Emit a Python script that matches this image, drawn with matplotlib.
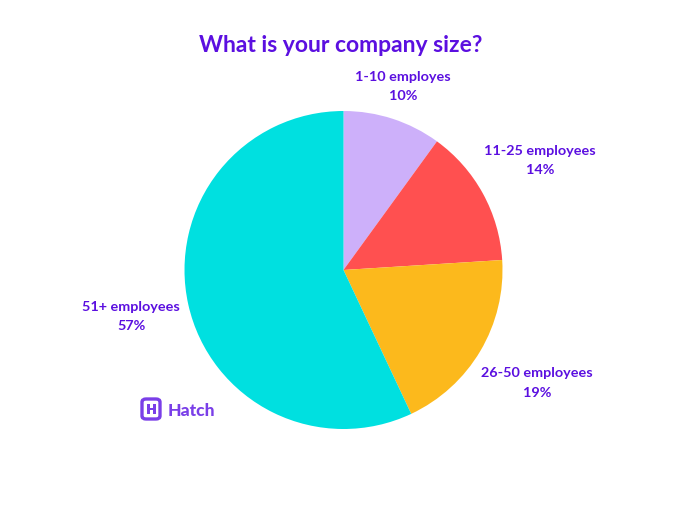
import matplotlib
matplotlib.use("Agg")
import matplotlib.pyplot as plt
from matplotlib.patches import FancyBboxPatch, Rectangle

categories = ["1-10 employes", "11-25 employees", "26-50 employees", "51+ employees"]
values = [10, 14, 19, 57]
colors = ["#CDB0FA", "#FF5050", "#FCB91C", "#00E0E0"]
title = "What is your company size?"
brand = "Hatch"
purple = "#5B0FE0"

plt.rcParams['font.family'] = ['Lato', 'DejaVu Sans']
fig = plt.figure(figsize=(6.8, 5.1), dpi=100)
W, H = 680, 510
cx, cy, r = 343.5, 271, 159
ax = fig.add_axes([(cx-r)/W, 1-(cy+r)/H, 2*r/W, 2*r/H])
ax.pie(values, colors=colors, startangle=90, counterclock=False, radius=1,
       wedgeprops=dict(linewidth=0))
ax.set_xlim(-1, 1); ax.set_ylim(-1, 1); ax.set_aspect('equal')

def T(x, y, s, **k):
    fig.text(x/W, 1-y/H, s, ha='center', va='center', color=purple, **k)

T(340.5, 45, title, fontsize=16.5, fontweight='bold')
labpos = [(403, 86.5), (540, 160.5), (537, 383), (131, 316.5)]
for (x, y), c, v in zip(labpos, categories, values):
    T(x, y, f"{c}\n{v}%", fontsize=10.4, fontweight='bold', linespacing=1.74)

logo = "#7A3FE8"
fig.add_artist(FancyBboxPatch((142/W, 1-420/H), 18/W, 20/H, boxstyle="round,pad=0,rounding_size=0.006",
    transform=fig.transFigure, fc='none', ec=logo, lw=2.4))
for x, y, w, h in [(147, 405, 2.5, 10), (153, 405, 2.5, 10), (147, 409, 8, 2)]:
    fig.add_artist(Rectangle((x/W, 1-(y+h)/H), w/W, h/H, transform=fig.transFigure, fc=logo, ec='none'))
fig.text(168/W, 1-411.5/H, brand, ha='left', va='center', color=logo, fontsize=12.6, fontweight='black')
fig.savefig("out.png", dpi=100, facecolor='white')
